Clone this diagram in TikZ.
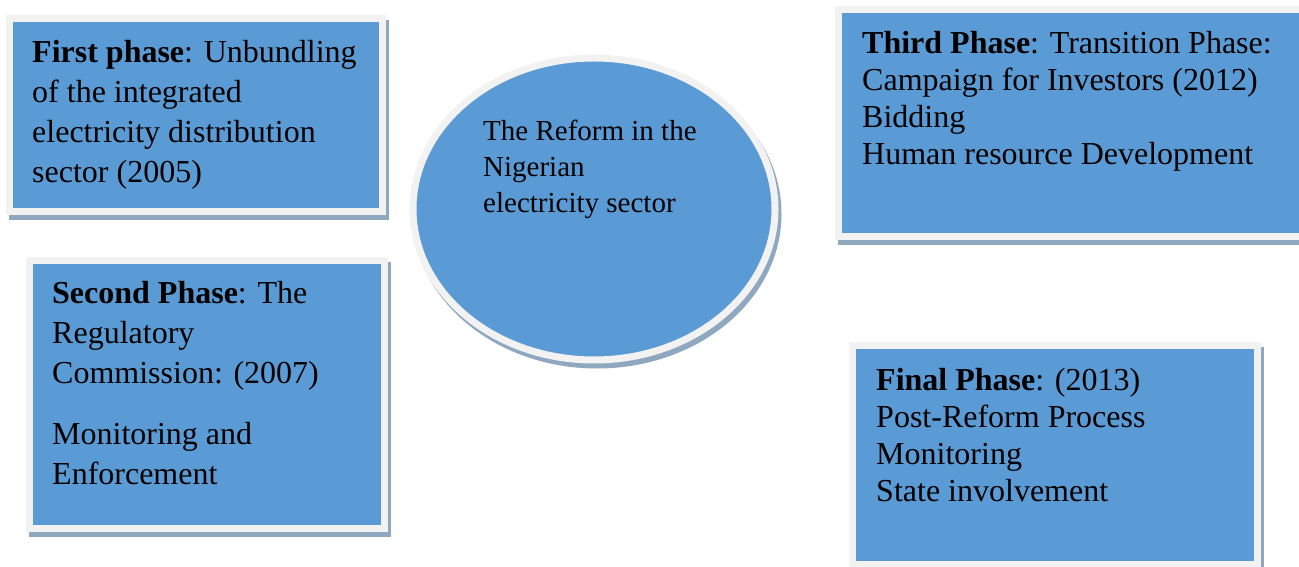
\documentclass[tikz,border=0pt]{standalone}
\usepackage{fontspec}
\setmainfont{Liberation Serif}
\usetikzlibrary{positioning,shapes.geometric}

\definecolor{boxblue}{HTML}{5B9BD5}
\definecolor{framegray}{HTML}{F2F2F2}
\definecolor{shadowblue}{HTML}{8FA8C0}

\newcommand{\boxfont}{\fontsize{32}{40}\selectfont}
\newcommand{\listfont}{\fontsize{32}{37}\selectfont}
\newcommand{\ovalfont}{\fontsize{29}{36}\selectfont}

\begin{document}
\begin{tikzpicture}[x=1pt, y=1pt,
    shadowed/.style={preaction={draw=shadowblue, fill=shadowblue, line width=7pt,
        transform canvas={xshift=3pt, yshift=-5pt}}},
    phasebox/.style={rectangle, fill=boxblue, draw=framegray, line width=7pt,
        inner sep=0pt, outer sep=0pt, shadowed},
    phasetext/.style={anchor=north west, inner sep=0pt, align=left}]
    \useasboundingbox (0,0) rectangle (1299,567);

    % Phase boxes.
    \node[phasebox, minimum width=373, minimum height=193] (first)  at (195.5,451.5) {};
    \node[phasebox, minimum width=355, minimum height=268] (second) at (206.5,172) {};
    \node[phasebox, minimum width=472, minimum height=227] (third)  at (1074,443.5) {};
    \node[phasebox, minimum width=405, minimum height=219] (final)  at (1054.5,111.5) {};

    % The reform.
    \node[phasebox, ellipse, minimum width=362, minimum height=302] (reform) at (594,358) {};

    % Texts.
    \node[phasetext, font=\boxfont] (first-text) at (32,527)
        {\textbf{First phase}: Unbundling\\of the integrated\\electricity distribution\\sector (2005)};
    \node[phasetext, font=\boxfont] (second-text) at (52,286)
        {\textbf{Second Phase}: The\\Regulatory\\Commission: (2007)\\[21pt]Monitoring and\\Enforcement};
    \node[phasetext, font=\listfont] (third-text) at (862,536)
        {\textbf{Third Phase}: Transition Phase:\\Campaign for Investors (2012)\\Bidding\\Human resource Development};
    \node[phasetext, font=\listfont] (final-text) at (876,199)
        {\textbf{Final Phase}: (2013)\\Post-Reform Process\\Monitoring\\State involvement};
    \node[phasetext, font=\ovalfont] (reform-text) at (483,447)
        {The Reform in the\\Nigerian\\electricity sector};

\end{tikzpicture}
\end{document}
